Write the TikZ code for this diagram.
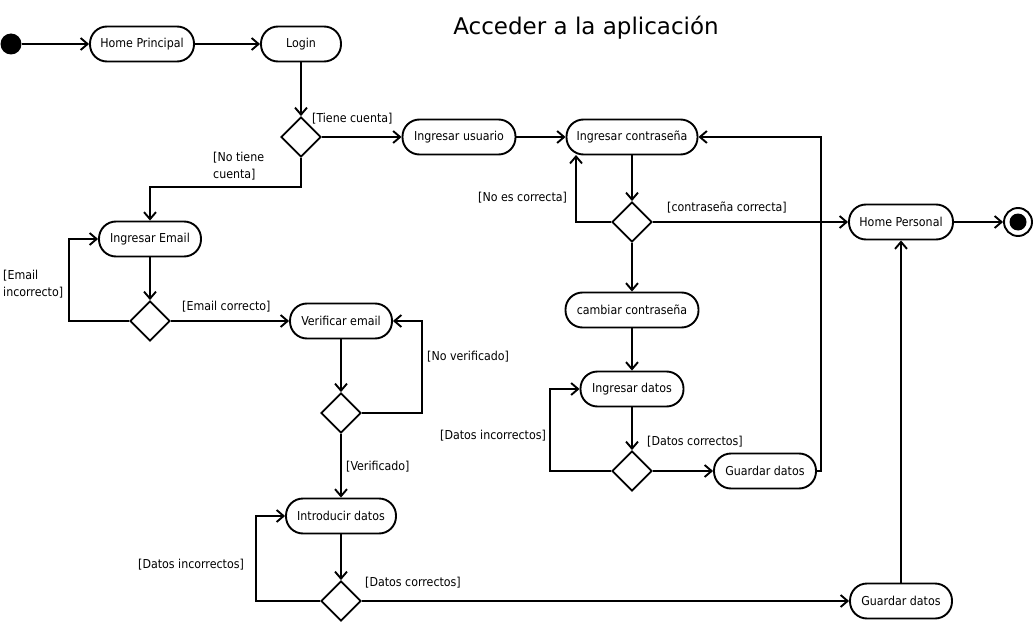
\documentclass[tikz,border=0pt]{standalone}
\usepackage{fontspec}
\setmainfont{DejaVu Sans}
\newfontfamily\condfont{DejaVu Sans Condensed}
\usetikzlibrary{arrows.meta,shapes.geometric}
\begin{document}
\begin{tikzpicture}[x=1pt,y=-1pt,
 act/.style={draw,line width=1.9pt,rounded corners=17pt,minimum height=35pt,inner sep=0pt,font=\condfont\fontsize{12.3}{14}\selectfont},
 dec/.style={draw,diamond,line width=1.9pt,minimum width=40pt,minimum height=40pt,inner sep=0pt,aspect=1},
 flow/.style={line width=1.9pt,-{Straight Barb[length=7pt,width=12pt,line width=1.9pt]}},
 lbl/.style={font=\condfont\fontsize{12.3}{17}\selectfont,inner sep=0pt,align=left}]
\useasboundingbox (0,0) rectangle (1036,623);
\node[font=\fontsize{23}{28}\selectfont] (title) at (586,28) {Acceder a la aplicación};
% nodes
\node[circle,fill=black,minimum size=21pt,inner sep=0pt] (start) at (11,44) {};
\node[act,minimum width=104pt] (hp) at (142,44) {Home Principal};
\node[act,minimum width=80pt] (login) at (301,44) {Login};
\node[dec] (d1) at (301,137) {};
\node[act,minimum width=113pt] (iu) at (459,137) {Ingresar usuario};
\node[act,minimum width=131pt] (ic) at (632,137) {Ingresar contraseña};
\node[dec] (d2) at (632,222) {};
\node[act,minimum width=104pt] (hpers) at (901,222) {Home Personal};
\node[circle,draw,line width=1.9pt,minimum size=28pt,inner sep=0pt] (end) at (1018,222) {};
\node[circle,fill=black,minimum size=17pt,inner sep=0pt] (endin) at (1018,222) {};
\node[act,minimum width=133pt] (cc) at (632,310) {cambiar contraseña};
\node[act,minimum width=103pt] (id) at (632,389) {Ingresar datos};
\node[dec] (d3) at (632,471) {};
\node[act,minimum width=102pt] (gd1) at (765,471) {Guardar datos};
\node[act,minimum width=102pt] (ie) at (150,239) {Ingresar Email};
\node[dec] (d4) at (150,321) {};
\node[act,minimum width=102pt] (ve) at (341,321) {Verificar email};
\node[dec] (d5) at (341,413) {};
\node[act,minimum width=110pt] (intro) at (341,516) {Introducir datos};
\node[dec] (d6) at (341,601) {};
\node[act,minimum width=102pt] (gd2) at (901,601) {Guardar datos};
% coordinates
\coordinate (k1) at (150,187);
\coordinate (k2) at (576,155);
% connectors
\draw[flow] (start) -- (hp);
\draw[flow] (hp) -- (login);
\draw[flow] (login) -- (d1);
\draw[flow] (d1.east) -- (iu.west);
\draw[flow] (d1.south) |- (k1) -- (ie.north);
\draw[flow] (iu) -- (ic);
\draw[flow] (ic) -- (d2);
\draw[flow] (d2.east) -- (hpers.west);
\draw[flow] (d2.west) -| (k2);
\draw[flow] (d2.south) -- (cc.north);
\draw[flow] (cc) -- (id);
\draw[flow] (id) -- (d3);
\draw[flow] (d3.east) -- (gd1.west);
\draw[flow] (d3.west) -- ++(-61,0) |- (id.west);
\draw[flow] (gd1.east) -- ++(4,0) |- (ic.east);
\draw[flow] (ie) -- (d4);
\draw[flow] (d4.east) -- (ve.west);
\draw[flow] (d4.west) -- ++(-60,0) |- (ie.west);
\draw[flow] (ve) -- (d5);
\draw[flow] (d5.east) -- ++(60,0) |- (ve.east);
\draw[flow] (d5.south) -- (intro.north);
\draw[flow] (intro) -- (d6);
\draw[flow] (d6.west) -- ++(-64,0) |- (intro.west);
\draw[flow] (d6.east) -- (gd2.west);
\draw[flow] (gd2.north) -- (hpers.south);
\draw[flow] (hpers.east) -- (end.west);
% labels
\node[lbl,anchor=west] (l1) at (312,119) {[Tiene cuenta]};
\node[lbl,anchor=north west] (l2) at (213,152) {[No tiene\\cuenta]};
\node[lbl,anchor=north west] (l3) at (3,270) {[Email\\incorrecto]};
\node[lbl,anchor=west] (l4) at (182,307) {[Email correcto]};
\node[lbl,anchor=west] (l5) at (427,357) {[No verificado]};
\node[lbl,anchor=west] (l6) at (346,467) {[Verificado]};
\node[lbl,anchor=west] (l7) at (138,565) {[Datos incorrectos]};
\node[lbl,anchor=west] (l8) at (365,583) {[Datos correctos]};
\node[lbl,anchor=west] (l9) at (478,198) {[No es correcta]};
\node[lbl,anchor=west] (l10) at (667,208) {[contraseña correcta]};
\node[lbl,anchor=west] (l11) at (440,436) {[Datos incorrectos]};
\node[lbl,anchor=west] (l12) at (647,442) {[Datos correctos]};
\end{tikzpicture}
\end{document}
